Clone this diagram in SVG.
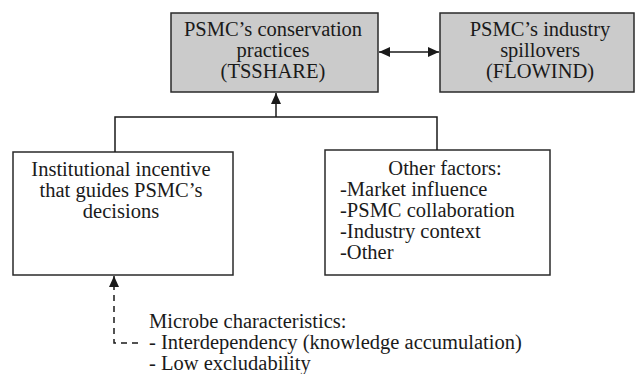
<svg xmlns="http://www.w3.org/2000/svg" width="635" height="374" viewBox="0 0 635 374">
<style>
.box{stroke:#2a2a2a;stroke-width:1.5}
.gray{fill:#cbcbcb}
.white{fill:#ffffff}
text{font-family:"Liberation Serif","Times New Roman",serif;font-size:20.5px;fill:#1a1a1a}
.c{text-anchor:middle}
.ln{stroke:#1a1a1a;stroke-width:1.5;fill:none}
.dash{stroke-dasharray:6,5}
</style>
<defs>
<marker id="ah" viewBox="0 0 11 10" refX="11" refY="5" markerWidth="11" markerHeight="10" markerUnits="userSpaceOnUse" orient="auto-start-reverse">
<path d="M0,0 L11,5 L0,10 z" fill="#1a1a1a"/>
</marker>
</defs>
<rect width="635" height="374" fill="#ffffff"/>
<g id="tsshare">
<rect class="box gray" x="171" y="13" width="207" height="79"/>
<text class="c" x="273" y="36">PSMC’s conservation</text>
<text class="c" x="273" y="57">practices</text>
<text class="c" x="273" y="78">(TSSHARE)</text>
</g>
<g id="flowind">
<rect class="box gray" x="440" y="13" width="194" height="79"/>
<text class="c" x="540" y="36">PSMC’s industry</text>
<text class="c" x="540" y="57">spillovers</text>
<text class="c" x="540" y="78">(FLOWIND)</text>
</g>
<g id="institutional">
<rect class="box white" x="13" y="152" width="220" height="123"/>
<text class="c" x="121" y="176">Institutional incentive</text>
<text class="c" x="121" y="197">that guides PSMC’s</text>
<text class="c" x="121" y="218">decisions</text>
</g>
<g id="other">
<rect class="box white" x="325" y="150" width="225" height="125"/>
<text class="c" x="445" y="175">Other factors:</text>
<text x="340" y="196">-Market influence</text>
<text x="340" y="217">-PSMC collaboration</text>
<text x="340" y="238">-Industry context</text>
<text x="340" y="259">-Other</text>
</g>
<g id="microbe">
<text x="149" y="328">Microbe characteristics:</text>
<text x="149" y="349">- Interdependency (knowledge accumulation)</text>
<text x="149" y="370">- Low excludability</text>
</g>
<g id="connectors">
<line class="ln" x1="379" y1="52" x2="439" y2="52" marker-start="url(#ah)" marker-end="url(#ah)"/>
<polyline class="ln" points="115,152 115,117 437,117 437,150"/>
<line class="ln" x1="276" y1="117" x2="276" y2="93" marker-end="url(#ah)"/>
<polyline class="ln dash" points="138,343 114,343 114,276" marker-end="url(#ah)"/>
</g>
</svg>
